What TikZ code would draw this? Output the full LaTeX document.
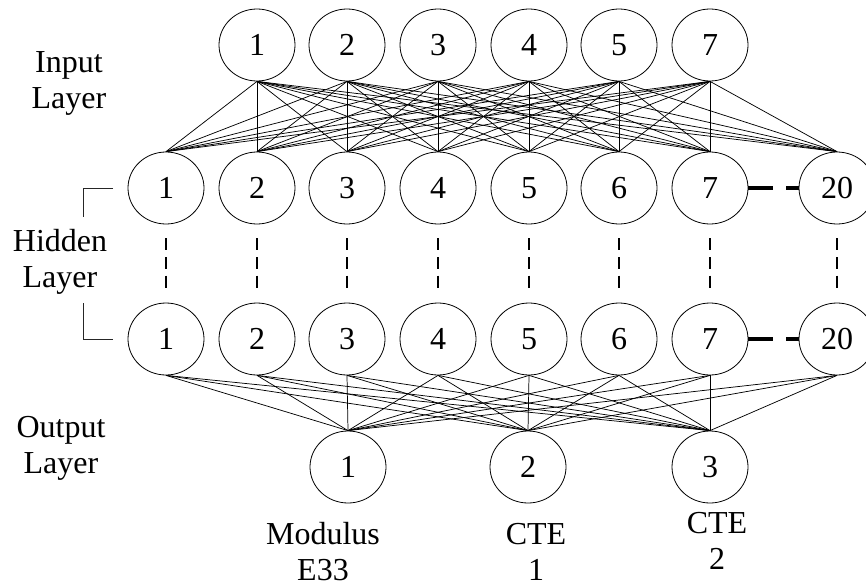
\documentclass[tikz,border=0pt]{standalone}
\usepackage{fontspec}
\setmainfont{Liberation Serif}
\usetikzlibrary{shapes.geometric}
\begin{document}
\begin{tikzpicture}[x=0.75pt,y=-0.75pt,
  neuron/.style={ellipse,draw,line width=0.6pt,minimum width=57pt,minimum height=54pt,inner sep=0pt,font=\fontsize{24}{27}\selectfont},
  lbl/.style={align=center,anchor=base,font=\fontsize{24}{27}\selectfont,inner sep=0pt},
  link/.style={line width=0.55pt},
  vdash/.style={line width=1pt,dash pattern=on 9pt off 5pt,shorten <=10.5pt,shorten >=10.5pt},
  hdash/.style={line width=2.3pt,dash pattern=on 18.75pt off 9.75pt},
  brk/.style={line width=0.6pt,draw=black!85}]
\useasboundingbox (0,0) rectangle (866,585);
% input layer
\foreach \x/\t [count=\i] in {257/1,347/2,438/3,529/4,619/5,710/7}
  \node[neuron] (in\i) at (\x,45) {\t};
% hidden layers
\foreach \x/\t [count=\i] in {166/1,257/2,347/3,438/4,529/5,619/6,710/7,837/20}{
  \node[neuron] (ha\i) at (\x,188) {\t};
  \node[neuron] (hb\i) at (\x,339) {\t};
}
% output layer
\foreach \x/\t [count=\i] in {348/1,528/2,710/3}
  \node[neuron] (out\i) at (\x,467) {\t};
% connections
\foreach \i in {1,...,6}
  \foreach \j in {1,...,8}
    \draw[link] (in\i.south) -- (ha\j.north);
\foreach \i in {1,...,8}
  \foreach \j in {1,...,3}
    \draw[link] (hb\i.south) -- (out\j.north);
% dashed links between hidden layers
\foreach \i in {1,...,8}
  \draw[vdash] (ha\i.south) -- (hb\i.north);
\draw[hdash] (ha7.east) -- (ha8.west);
\draw[hdash] (hb7.east) -- (hb8.west);
% bracket
\coordinate (bt1) at (113,188);
\coordinate (bt2) at (83,188);
\coordinate (bt3) at (83,217);
\coordinate (bb1) at (83,303);
\coordinate (bb2) at (83,339);
\coordinate (bb3) at (113,339);
\draw[brk] (bt1) -- (bt2) -- (bt3);
\draw[brk] (bb1) -- (bb2) -- (bb3);
% labels (anchor = baseline of last line)
\node[lbl] (linput) at (69,108) {Input\\Layer};
\node[lbl] (lhidden) at (60,287) {Hidden\\Layer};
\node[lbl] (loutput) at (61,473) {Output\\Layer};
\node[lbl] (lmod) at (323,580) {Modulus\\E33};
\node[lbl] (lcte1) at (536,580) {CTE\\1};
\node[lbl] (lcte2) at (717,569) {CTE\\2};
\end{tikzpicture}
\end{document}
